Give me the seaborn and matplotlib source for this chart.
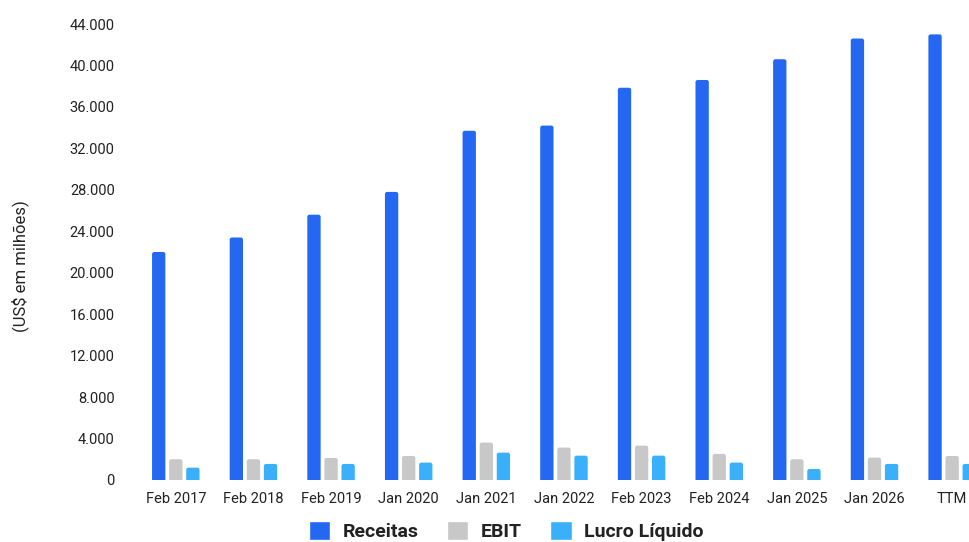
import matplotlib
matplotlib.use("Agg")
import matplotlib.pyplot as plt
import matplotlib.ticker as mticker
from matplotlib.patches import FancyBboxPatch
import seaborn as sns
import pandas as pd

# dados (US$ em milhões)
periodos = ['Feb 2017', 'Feb 2018', 'Feb 2019', 'Jan 2020', 'Jan 2021', 'Jan 2022',
            'Feb 2023', 'Feb 2024', 'Jan 2025', 'Jan 2026', 'TTM']
receitas = [22000, 23400, 25600, 27800, 33700, 34200, 37850, 38600, 40600, 42600, 43000]
ebit = [2000, 2000, 2130, 2320, 3610, 3130, 3320, 2520, 2000, 2160, 2320]
lucro_liquido = [1190, 1550, 1550, 1680, 2640, 2350, 2350, 1680, 1060, 1550, 1550]
series = ['Receitas', 'EBIT', 'Lucro Líquido']
cores = ['#2468F2', '#C8C8C8', '#3BB0FA']

df = pd.DataFrame({
    'periodo': periodos * 3,
    'valor': receitas + ebit + lucro_liquido,
    'serie': [s for s in series for _ in periodos],
})

sns.set_theme(style="white")
plt.rcParams['font.family'] = ['Roboto', 'DejaVu Sans']

fig = plt.figure(figsize=(9.7, 5.42), dpi=100)
ax = fig.add_axes([0.1412, 0.1144, 0.8804, 0.8413])

sns.barplot(data=df, x='periodo', y='valor', hue='serie', palette=cores,
            width=0.66, gap=0.22, saturation=1, ax=ax, legend=True)

ax.set_ylim(0, 44000)

# cantos superiores arredondados (~2 px)
px_x = 11 / (ax.get_position().width * 970)      # unidades x por pixel
px_y = 44000 / (ax.get_position().height * 542)  # unidades y por pixel
raio = 2.2 * px_x
aspecto = px_y / px_x
for barra in list(ax.patches):
    if barra.get_height() <= 0:
        continue
    x0, w, h = barra.get_x(), barra.get_width(), barra.get_height()
    novo = FancyBboxPatch((x0, -3 * px_y), w, h + 3 * px_y,
                          boxstyle=f'round,pad=0,rounding_size={raio}',
                          mutation_aspect=aspecto, facecolor=barra.get_facecolor(),
                          edgecolor='none', linewidth=0)
    ax.add_patch(novo)
    barra.set_visible(False)

ax.set_yticks(range(0, 44001, 4000))
ax.yaxis.set_major_formatter(mticker.FuncFormatter(lambda v, p: f'{int(v):,}'.replace(',', '.')))
ax.set_xlabel('')
ax.set_ylabel('(US$ em milhões)', fontsize=12, color='#222222')
ax.yaxis.set_label_coords(-0.127, 0.47)
ax.tick_params(axis='y', length=0, pad=16, labelsize=10.5, labelcolor='#222222')
ax.tick_params(axis='x', length=0, pad=9, labelsize=10.5, labelcolor='#222222')
sns.despine(ax=ax, left=True, bottom=True)
ax.grid(False)

handles, labels = ax.get_legend_handles_labels()
ax.legend(handles, labels, loc='center', bbox_to_anchor=(0.522, 0.02),
          bbox_transform=fig.transFigure, ncol=3, frameon=False,
          handlelength=1.1, handleheight=1.1, handletextpad=0.65, columnspacing=1.45,
          prop={'size': 14, 'weight': 'bold'})
for t in ax.get_legend().get_texts():
    t.set_color('#222222')

fig.savefig('out.png', dpi=100)
